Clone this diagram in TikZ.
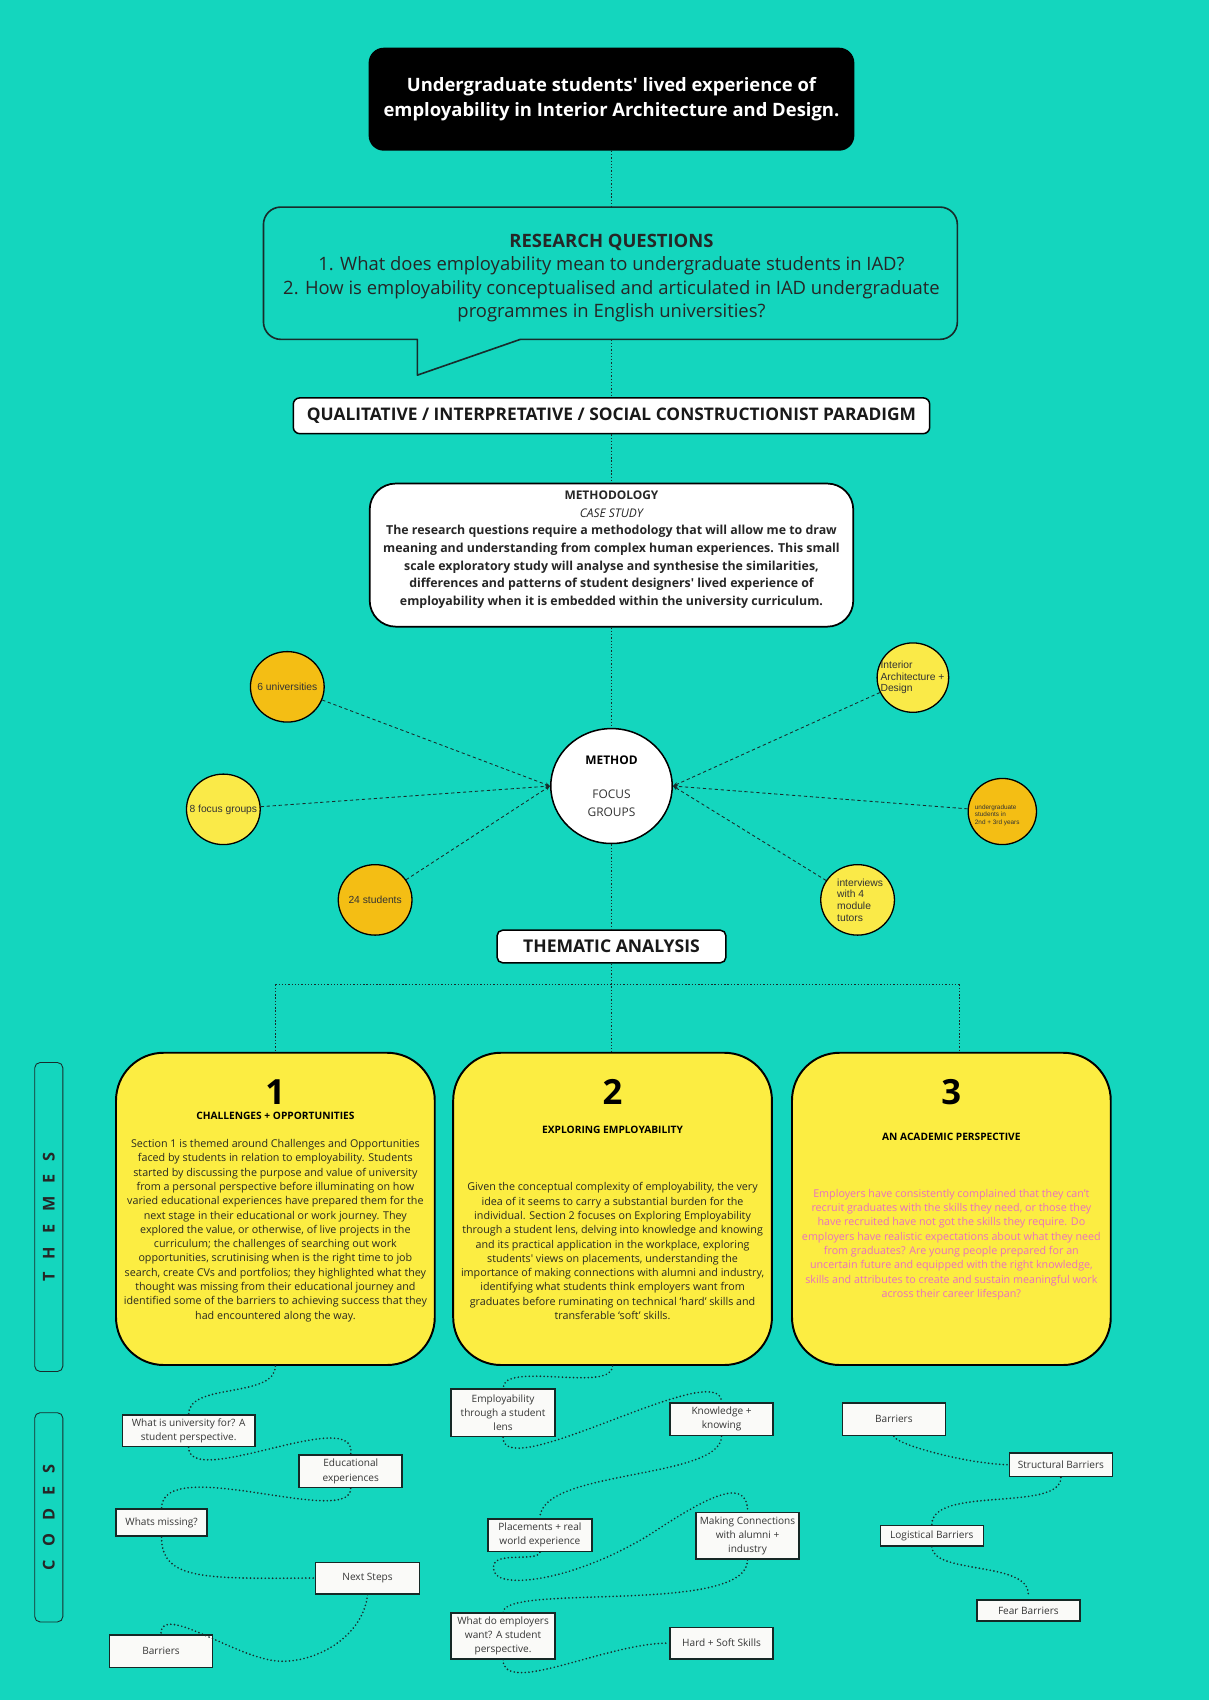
\documentclass[tikz,border=0pt]{standalone}
\usepackage{fontspec}
\setmainfont{Open Sans}
\newfontfamily\arialf{Liberation Sans}
\usetikzlibrary{arrows.meta,shapes.geometric}

\definecolor{bgteal}{RGB}{20,214,190}
\definecolor{themeyellow}{RGB}{252,237,66}
\definecolor{satorange}{RGB}{244,190,20}
\definecolor{satyellow}{RGB}{250,234,72}
\definecolor{linec}{RGB}{24,44,44}
\definecolor{codeline}{RGB}{22,40,38}
\definecolor{codefill}{RGB}{250,250,248}
\definecolor{textgrey}{RGB}{55,55,55}
\definecolor{pinktext}{RGB}{232,112,192}
\definecolor{bodytext}{RGB}{40,40,32}
\newcommand{\apos}{\textquotesingle}

\begin{document}
\begin{tikzpicture}[x=1pt,y=1pt,
  conn/.style={draw=linec, line width=0.9pt, dash pattern=on 1.2pt off 1.8pt},
  codelink/.style={draw=linec, line width=1.7pt, line cap=round, dash pattern=on 0pt off 3.4pt},
  satlink/.style={draw=linec, line width=0.8pt, dash pattern=on 3pt off 2.5pt, -{Stealth[length=4.5pt,width=3.5pt]}},
  whitebox/.style={draw=black, fill=white, line width=1.4pt, inner sep=0},
  themebox/.style={draw=black, line width=1.8pt, fill=themeyellow, rounded corners=44pt,
    minimum width=294pt, minimum height=288pt, inner sep=0},
  themenum/.style={font=\fontsize{32}{32}\bfseries\selectfont, text=black},
  themetitle/.style={font=\fontsize{9.4}{10}\bfseries\selectfont, text=black},
  themebody/.style={align=center, font=\fontsize{9.9}{13.2}\selectfont, text=bodytext},
  codebox/.style={draw=codeline, line width=1.5pt, fill=codefill, inner sep=0, align=center,
    font=\fontsize{9.3}{13.2}\selectfont, text=textgrey, minimum width=95pt},
  sat/.style={ellipse, draw=black, line width=1.2pt, minimum width=68pt, minimum height=65pt, inner sep=0},
  sattext/.style={font=\arialf\fontsize{9.5}{10.8}\selectfont, text=black!80, align=left, inner sep=0},
  sidebox/.style={draw=linec, line width=0.8pt, rounded corners=5pt, minimum width=26pt, inner sep=0},
  sidetext/.style={rotate=90, font=\fontsize{15}{15}\bfseries\selectfont, text=black!85}
]
\fill[bgteal] (0,0) rectangle (1115,-1568);
\useasboundingbox (0,0) rectangle (1115,-1568);

% ---------- title ----------
\node[fill=black, rounded corners=14pt, minimum width=448pt, minimum height=95pt, inner sep=0,
  align=center, text=white, font=\fontsize{17}{23.5}\bfseries\selectfont] (title) at (564,-91.5)
  {Undergraduate students\apos{} lived experience of\\employability in Interior Architecture and Design.};

% ---------- research questions speech bubble ----------
\node[minimum width=640pt, minimum height=122pt, inner sep=0] (rqbox) at (564,-252) {};
\draw[draw=linec, line width=1.5pt, line join=round]
  (480,-313) -- (867,-313) arc[start angle=270, end angle=360, radius=16]
  -- (883,-207) arc[start angle=0, end angle=90, radius=16]
  -- (259,-191) arc[start angle=90, end angle=180, radius=16]
  -- (243,-297) arc[start angle=180, end angle=270, radius=16]
  -- (385,-313) -- (385,-346) -- cycle;
\node[align=center, text=black!85, font=\fontsize{17}{21.7}\selectfont] (rqtext) at (564,-256.5)
  {\textbf{RESEARCH QUESTIONS}\\
   1. What does employability mean to undergraduate students in IAD?\\
   2. How is employability conceptualised and articulated in IAD undergraduate\\
   programmes in English universities?};

% ---------- paradigm ----------
\node[whitebox, rounded corners=6pt, minimum width=587pt, minimum height=33pt,
  font=\fontsize{16}{16}\bfseries\selectfont, text=black!90] (paradigm) at (564,-383.5)
  {QUALITATIVE / INTERPRETATIVE / SOCIAL CONSTRUCTIONIST PARADIGM};

% ---------- methodology ----------
\node[whitebox, line width=1.6pt, rounded corners=24pt, minimum width=446pt, minimum height=132pt] (meth) at (564,-512) {};
\node[align=center, text=black!85, font=\fontsize{11.4}{16.2}\selectfont] (methtext) at (564,-507)
  {{\fontsize{11}{16.2}\bfseries\selectfont METHODOLOGY}\\
   {\fontsize{11}{16.2}\itshape\selectfont CASE STUDY}\\
   \bfseries The research questions require a methodology that will allow me to draw\\
   \bfseries meaning and understanding from complex human experiences. This small\\
   \bfseries scale exploratory study will analyse and synthesise the similarities,\\
   \bfseries differences and patterns of student designers\apos{} lived experience of\\
   \bfseries employability when it is embedded within the university curriculum.};

% ---------- method hub and its satellites ----------
\node[ellipse, draw=black, fill=white, line width=1.4pt, minimum width=112pt, minimum height=106pt,
  inner sep=0] (method) at (564,-725) {};
\node[font=\fontsize{11}{11}\bfseries\selectfont] (methodlbl) at (564,-701) {METHOD};
\node[align=center, font=\fontsize{11}{16.5}\selectfont, text=black!80] (focuslbl) at (564,-740.5) {FOCUS\\GROUPS};

\node[sat, fill=satorange] (s1) at (265,-633.5) {};
\node[sat, fill=satyellow] (s2) at (206,-746.5) {};
\node[sat, fill=satorange] (s3) at (346,-830) {};
\node[sat, fill=satyellow, minimum width=66pt, minimum height=64pt] (s4) at (842,-625) {};
\node[sat, fill=satorange, minimum width=63pt, minimum height=61pt] (s5) at (924.5,-748.5) {};
\node[sat, fill=satyellow] (s6) at (791,-830) {};

\node[sattext] (s1t) at (s1) {6 universities};
\node[sattext] (s2t) at (s2) {8 focus groups};
\node[sattext] (s3t) at (s3) {24 students};
\node[sattext, anchor=west] (s4t) at (812,-625) {Interior\\Architecture +\\Design};
\node[sattext, anchor=west, font=\arialf\fontsize{5.9}{7}\selectfont] (s5t) at (899,-752) {undergraduate\\students in\\2nd + 3rd years};
\node[sattext, anchor=west] (s6t) at (772,-830) {interviews\\with 4\\module\\tutors};

\draw[satlink] (s1) -- (method.west);
\draw[satlink] (s2) -- (method.west);
\draw[satlink] (s3) -- (method.west);
\draw[satlink] (s4) -- (method.east);
\draw[satlink] (s5) -- (method.east);
\draw[satlink] (s6) -- (method.east);

% ---------- thematic analysis ----------
\node[whitebox, rounded corners=5pt, minimum width=211pt, minimum height=30pt,
  font=\fontsize{16.2}{16.2}\bfseries\selectfont, text=black!90] (thematic) at (564,-873) {THEMATIC ANALYSIS};

% ---------- themes ----------
\node[themebox] (t1) at (254,-1115) {};
\node[themebox] (t2) at (565,-1115) {};
\node[themebox] (t3) at (877.5,-1115) {};

\node[themenum] (n1) at (254,-1007) {1};
\node[themenum] (n2) at (565,-1007) {2};
\node[themenum] (n3) at (877.5,-1007) {3};
\node[themetitle] (h1) at (254,-1029) {CHALLENGES + OPPORTUNITIES};
\node[themetitle] (h2) at (565,-1042) {EXPLORING EMPLOYABILITY};
\node[themetitle] (h3) at (877.5,-1048.5) {AN ACADEMIC PERSPECTIVE};

\node[themebody] (b1) at (254,-1135) {Section 1 is themed around Challenges and Opportunities\\
faced by students in relation to employability. Students\\
started by discussing the purpose and value of university\\
from a personal perspective before illuminating on how\\
varied educational experiences have prepared them for the\\
next stage in their educational or work journey. They\\
explored the value, or otherwise, of live projects in the\\
curriculum; the challenges of searching out work\\
opportunities, scrutinising when is the right time to job\\
search, create CVs and portfolios; they highlighted what they\\
thought was missing from their educational journey and\\
identified some of the barriers to achieving success that they\\
had encountered along the way.};

\node[themebody] (b2) at (565,-1154) {Given the conceptual complexity of employability, the very\\
idea of it seems to carry a substantial burden for the\\
individual. Section 2 focuses on Exploring Employability\\
through a student lens, delving into knowledge and knowing\\
and its practical application in the workplace, exploring\\
students\apos{} views on placements, understanding the\\
importance of making connections with alumni and industry,\\
identifying what students think employers want from\\
graduates before ruminating on technical ‘hard’ skills and\\
transferable ‘soft’ skills.};

\node[themebody, text=pinktext] (b3) at (877.5,-1148) {Employers have consistently complained that they can’t\\
recruit graduates with the skills they need, or those they\\
have recruited have not got the skills they require. Do\\
employers have realistic expectations about what they need\\
from graduates? Are young people prepared for an\\
uncertain future and equipped with the right knowledge,\\
skills and attributes to create and sustain meaningful work\\
across their career lifespan?};

% ---------- spine connectors ----------
\draw[conn] (title.south) -- (rqbox.north);
\draw[conn] (rqbox.south) -- (paradigm.north);
\draw[conn] (paradigm.south) -- (meth.north);
\draw[conn] (meth.south) -- (method.north);
\draw[conn] (method.south) -- (thematic.north);
\draw[conn] (thematic.south) -- (thematic.south |- t2.north);
\coordinate (hl) at (254,-908);
\coordinate (hr) at (885,-908);
\draw[conn] (hl) -- (hr);
\draw[conn] (hl) -- (hl |- t1.north);
\draw[conn] (hr) -- (hr |- t3.north);

% ---------- side labels ----------
\node[sidebox, minimum height=285pt] (themesbox) at (45,-1122.5) {};
\node[sidetext] (themeslbl) at (themesbox) {T\hspace{12pt}H\hspace{12pt}E\hspace{12pt}M\hspace{12pt}E\hspace{12pt}S};
\node[sidebox, minimum height=193pt] (codesbox) at (45,-1399.5) {};
\node[sidetext] (codeslbl) at (codesbox) {C\hspace{12pt}O\hspace{12pt}D\hspace{12pt}E\hspace{12pt}S};

% ---------- codes: column 1 ----------
\node[codebox, minimum width=122pt, minimum height=29pt] (c1a) at (174,-1319.5) {What is university for? A\\student perspective.};
\node[codebox, minimum height=30pt] (c1b) at (323.5,-1357) {Educational\\experiences};
\node[codebox, minimum width=84pt, minimum height=25pt] (c1c) at (149,-1404.5) {Whats missing?};
\node[codebox, minimum width=96pt, minimum height=29pt] (c1d) at (339,-1455.5) {Next Steps};
\node[codebox, minimum height=30pt] (c1e) at (148.5,-1523) {Barriers};

\draw[codelink] (t1.south) .. controls (254,-1290) and (174,-1275) .. (c1a.north);
\draw[codelink] (c1a.south) .. controls (174,-1375) and (330,-1295) .. (c1b.north);
\draw[codelink] (c1b.south) .. controls (323.5,-1410) and (149,-1340) .. (c1c.north);
\draw[codelink] (c1c.south) .. controls (149,-1458) and (190,-1456) .. (c1d.west);
\draw[codelink] (c1d.south) .. controls (335,-1510) and (290,-1535) .. (255,-1532)
  .. controls (215,-1528) and (148,-1478) .. (c1e.north);

% ---------- codes: column 2 ----------
\node[codebox, minimum width=96pt, minimum height=44pt] (c2a) at (464,-1303) {Employability\\through a student\\lens};
\node[codebox, minimum height=30pt] (c2b) at (665.5,-1309) {Knowledge +\\knowing};
\node[codebox, minimum width=96pt, minimum height=30pt] (c2c) at (498,-1416) {Placements + real\\world experience};
\node[codebox, minimum height=43pt] (c2d) at (689.5,-1416.5) {Making Connections\\with alumni +\\industry};
\node[codebox, minimum width=96pt, minimum height=42pt] (c2e) at (464,-1509) {What do employers\\want? A student\\perspective.};
\node[codebox, minimum height=29pt] (c2f) at (665.5,-1515.5) {Hard + Soft Skills};

\draw[codelink] (t2.south) .. controls (565,-1285) and (464,-1255) .. (c2a.north);
\draw[codelink] (c2a.south) .. controls (464,-1370) and (665,-1250) .. (c2b.north);
\draw[codelink] (c2b.south) .. controls (665,-1365) and (498,-1355) .. (c2c.north);
\draw[codelink] (c2c.south) .. controls (495,-1442) and (448,-1428) .. (456,-1450)
  .. controls (462,-1466) and (530,-1458) .. (600,-1415)
  .. controls (650,-1382) and (689.5,-1360) .. (c2d.north);
\draw[codelink] (c2d.south) .. controls (690,-1490) and (464,-1460) .. (c2e.north);
\draw[codelink] (c2e.south) .. controls (464,-1565) and (560,-1515) .. (c2f.west);

% ---------- codes: column 3 ----------
\node[codebox, minimum height=30pt] (c3a) at (824.5,-1309) {Barriers};
\node[codebox, minimum height=22pt] (c3b) at (978.5,-1351) {Structural Barriers};
\node[codebox, minimum height=19pt] (c3c) at (859.5,-1416.5) {Logistical Barriers};
\node[codebox, minimum height=19pt] (c3d) at (948.5,-1485.5) {Fear Barriers};

\draw[codelink] (c3a.south) .. controls (826,-1332) and (890,-1350) .. (c3b.west);
\draw[codelink] (c3b.south) .. controls (978.5,-1395) and (859.5,-1370) .. (c3c.north);
\draw[codelink, shorten >=5pt] (c3c.south) .. controls (860,-1452) and (948.5,-1440) .. (c3d.north);
\end{tikzpicture}
\end{document}
